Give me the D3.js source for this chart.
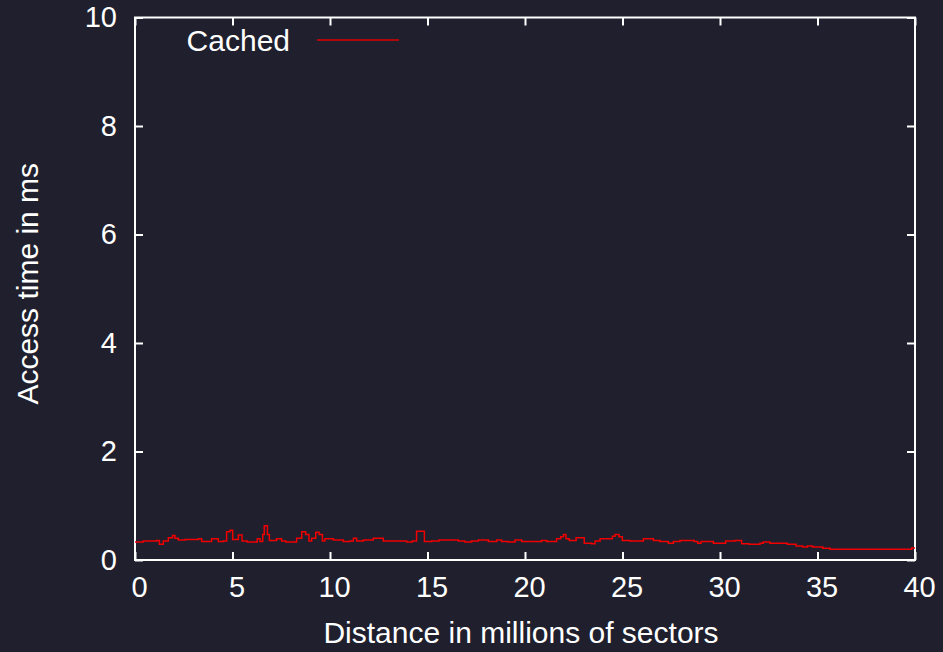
<!DOCTYPE html>
<html>
<head>
<meta charset="utf-8">
<script src="https://cdnjs.cloudflare.com/ajax/libs/d3/7.8.5/d3.min.js"></script>
<style>
	html, body { margin:0; padding:0; background:#1f1f2e; }
	svg { display:block; }
	.axis text { font-family:"Liberation Sans", Arial, sans-serif; font-size:29px; fill:#fff; }
	.axis line { stroke:#fff; stroke-width:2; }
	.lbl { font-family:"Liberation Sans", Arial, sans-serif; font-size:30px; fill:#fff; }
</style>
</head>
<body>
<svg id="chart"></svg>
<script>
// distance (millions of sectors) where each step starts, and access time (ms) held until the next one
var xs = [0, 0.43, 1.11, 1.25, 1.45, 1.71, 1.93, 2.05, 2.22, 2.56, 3.25, 3.42, 3.93, 4.27, 4.53, 4.70, 4.87,
	5.01, 5.30, 5.49, 5.76, 6.27, 6.41, 6.55, 6.63, 6.79, 6.89, 7.26, 7.52, 7.74, 8.29, 8.55, 8.75, 8.92,
	9.06, 9.27, 9.44, 9.61, 9.74, 10.17, 10.68, 11.03, 11.20, 11.37, 11.71, 12.22, 12.73, 13.93, 14.22, 14.44,
	14.84, 15.21, 15.59, 16.24, 16.58, 16.92, 17.26, 17.61, 18.12, 18.55, 18.80, 19.15, 19.49, 19.83, 20.85,
	21.11, 21.62, 21.83, 21.97, 22.10, 22.27, 22.62, 23.04, 23.42, 23.59, 23.85, 24.48, 24.62, 24.82, 24.99,
	25.38, 26.07, 26.58, 26.92, 27.35, 27.61, 27.95, 28.68, 28.86, 29.03, 29.66, 30.29, 30.77, 31.11, 31.49,
	32.05, 32.22, 32.56, 32.82, 33.16, 33.45, 33.90, 34.24, 34.48, 34.75, 35.27, 35.64, 39.83, 40];
var ys = [0.33, 0.35, 0.36, 0.29, 0.35, 0.41, 0.45, 0.40, 0.37, 0.38, 0.39, 0.34, 0.39, 0.34, 0.35, 0.52, 0.55,
	0.38, 0.46, 0.35, 0.33, 0.39, 0.34, 0.47, 0.63, 0.47, 0.36, 0.39, 0.35, 0.33, 0.40, 0.52, 0.47, 0.35,
	0.40, 0.51, 0.47, 0.35, 0.39, 0.37, 0.34, 0.35, 0.40, 0.35, 0.37, 0.40, 0.35, 0.33, 0.35, 0.53,
	0.34, 0.35, 0.37, 0.37, 0.35, 0.33, 0.35, 0.37, 0.34, 0.37, 0.34, 0.33, 0.37, 0.34, 0.36,
	0.34, 0.39, 0.43, 0.47, 0.39, 0.36, 0.41, 0.31, 0.30, 0.35, 0.39, 0.44, 0.47, 0.43, 0.36,
	0.35, 0.39, 0.36, 0.34, 0.31, 0.34, 0.36, 0.34, 0.31, 0.34, 0.31, 0.35, 0.36, 0.30, 0.29,
	0.31, 0.33, 0.31, 0.31, 0.31, 0.29, 0.26, 0.24, 0.26, 0.24, 0.215, 0.196, 0.22, 0.22];
var xTicks = [0, 5, 10, 15, 20, 25, 30, 35, 40];
var yTicks = [0, 2, 4, 6, 8, 10];
var seriesName = "Cached";

var W = 943, H = 652;
var mg = {top:17.5, right:28, bottom:92, left:135};
var w = W - mg.left - mg.right,
	h = H - mg.top - mg.bottom;

var svg = d3.select("#chart").attr("width", W).attr("height", H);
svg.append("rect").attr("width", W).attr("height", H).attr("fill", "#1f1f2e");
var g = svg.append("g").attr("transform", "translate(" + mg.left + "," + mg.top + ")");

var x = d3.scaleLinear().domain([0, 40]).range([0, w]);
var y = d3.scaleLinear().domain([0, 10]).range([h, 0]);

function axis(gen, tr, labels, pad){
	var a = g.append("g").attr("class", "axis").attr("transform", tr)
		.call(gen.tickSizeInner(-8).tickSizeOuter(0).tickPadding(pad || 18));
	if(!labels) a.selectAll("text").remove();
	a.select(".domain").remove();
	return a;
}
var xa = axis(d3.axisBottom(x).tickValues(xTicks).tickFormat(d3.format("d")), "translate(0," + h + ")", true, 16.5);
xa.selectAll("text").attr("dx", 4);
axis(d3.axisTop(x).tickValues(xTicks), "translate(0,0)", false);
axis(d3.axisLeft(y).tickValues(yTicks).tickFormat(d3.format("d")), "translate(0,0)", true, 18);
axis(d3.axisRight(y).tickValues(yTicks), "translate(" + w + ",0)", false);

// frame
g.append("rect").attr("width", w).attr("height", h)
	.attr("fill", "none").attr("stroke", "#fff").attr("stroke-width", 2);

var pts = xs.map(function(d, i){ return [d, ys[i]]; });
var line = d3.line()
	.x(function(d){ return x(d[0]); })
	.y(function(d){ return y(d[1]); })
	.curve(d3.curveStepAfter);
g.append("path").datum(pts)
	.attr("fill", "none").attr("stroke", "#f00000").attr("stroke-width", 1.5)
	.attr("d", line);

// key
g.append("text").attr("class", "lbl").attr("x", 155).attr("y", 22.5)
	.attr("dy", "0.35em").attr("text-anchor", "end").text(seriesName);
g.append("line").attr("x1", 182).attr("x2", 264).attr("y1", 22.5).attr("y2", 22.5)
	.attr("stroke", "#e00000").attr("stroke-width", 1.5);

// axis titles
svg.append("text").attr("class", "lbl").attr("text-anchor", "middle")
	.attr("x", mg.left + w / 2 - 4).attr("y", 643).text("Distance in millions of sectors");
svg.append("text").attr("class", "lbl").attr("text-anchor", "middle")
	.attr("transform", "translate(38," + (mg.top + h / 2 - 5) + ") rotate(-90)")
	.text("Access time in ms");
</script>
</body>
</html>
